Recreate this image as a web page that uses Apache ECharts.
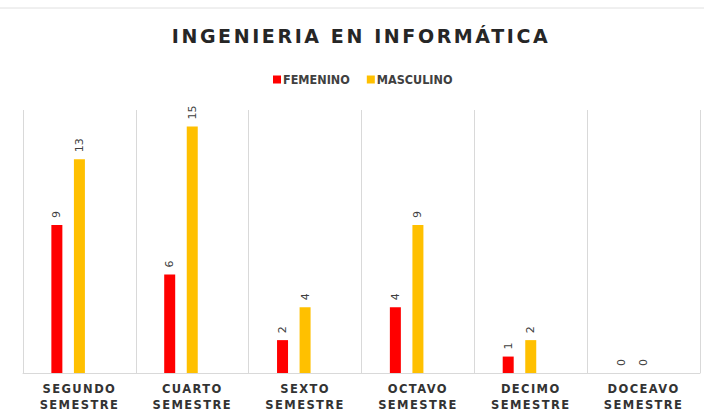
<!DOCTYPE html>
<html>
<head>
<meta charset="utf-8">
<script src="https://cdn.jsdelivr.net/npm/echarts@6/dist/echarts.min.js"></script>
<style>
html,body{margin:0;padding:0;background:#fff;}
#chart{width:704px;height:418px;}
</style>
</head>
<body>
<div id="chart"></div>
<script>
const categories = ['SEGUNDO\nSEMESTRE','CUARTO\nSEMESTRE','SEXTO\nSEMESTRE','OCTAVO\nSEMESTRE','DECIMO\nSEMESTRE','DOCEAVO\nSEMESTRE'];
const femenino = [9, 6, 2, 4, 1, 0];
const masculino = [13, 15, 4, 9, 2, 0];
const seriesNames = ['FEMENINO', 'MASCULINO'];
const titleText = 'INGENIERIA EN INFORMÁTICA';

const chart = echarts.init(document.getElementById('chart'), null, {renderer: 'svg'});
const labelStyle = {
  show: true, position: 'top', rotate: 90, distance: 7,
  align: 'left', verticalAlign: 'middle',
  color: '#404040', fontSize: 11, fontFamily: 'DejaVu Sans'
};
chart.setOption({
  animation: false,
  backgroundColor: '#fff',
  title: {
    text: titleText, left: 356, top: 21, textAlign: 'center',
    textStyle: {fontFamily: 'DejaVu Sans', fontWeight: 'bold', fontSize: 19, color: '#262626'}
  },
  legend: {
    data: seriesNames, top: 68, left: 268, icon: 'rect',
    itemWidth: 8, itemHeight: 8, itemGap: 17,
    textStyle: {fontFamily: 'DejaVu Sans Condensed, DejaVu Sans', fontWeight: 'bold', fontSize: 12.5, color: '#404040', padding: [0,0,0,-3]}
  },
  grid: {left: 23, right: 4, top: 110, bottom: 45},
  xAxis: {
    type: 'category', data: categories,
    axisLine: {lineStyle: {color: '#d9d9d9'}},
    axisTick: {show: false},
    splitLine: {show: true, interval: 0, lineStyle: {color: '#d9d9d9'}},
    axisLabel: {interval: 0, margin: 8, lineHeight: 16, fontFamily: 'DejaVu Sans', fontWeight: 'bold', fontSize: 11.5, color: '#333'}
  },
  yAxis: {type: 'value', min: 0, max: 16, show: false, splitLine: {show: false}},
  series: [
    {name: seriesNames[0], type: 'bar', data: femenino, barWidth: 11, barGap: '105%', itemStyle: {color: '#ff0000'}, label: labelStyle},
    {name: seriesNames[1], type: 'bar', data: masculino, barWidth: 11, barGap: '105%', itemStyle: {color: '#ffc000'}, label: labelStyle},
    {name: 'spacer', type: 'bar', data: [], barWidth: 11, barGap: '105%', silent: true}
  ],
  graphic: [{type: 'line', shape: {x1: 0, y1: 8, x2: 704, y2: 8}, style: {stroke: '#e0e0e0', lineWidth: 1}}]
});

function spaceLetters() {
  document.querySelectorAll('#chart text').forEach(function (t) {
    const s = t.textContent;
    if (s === titleText) t.setAttribute('letter-spacing', '2.6');
    else if (/^(SEGUNDO|CUARTO|SEXTO|OCTAVO|DECIMO|DOCEAVO|SEMESTRE)$/.test(s)) t.setAttribute('letter-spacing', '1.4');
  });
}
spaceLetters();
chart.on('finished', spaceLetters);
</script>
</body>
</html>
